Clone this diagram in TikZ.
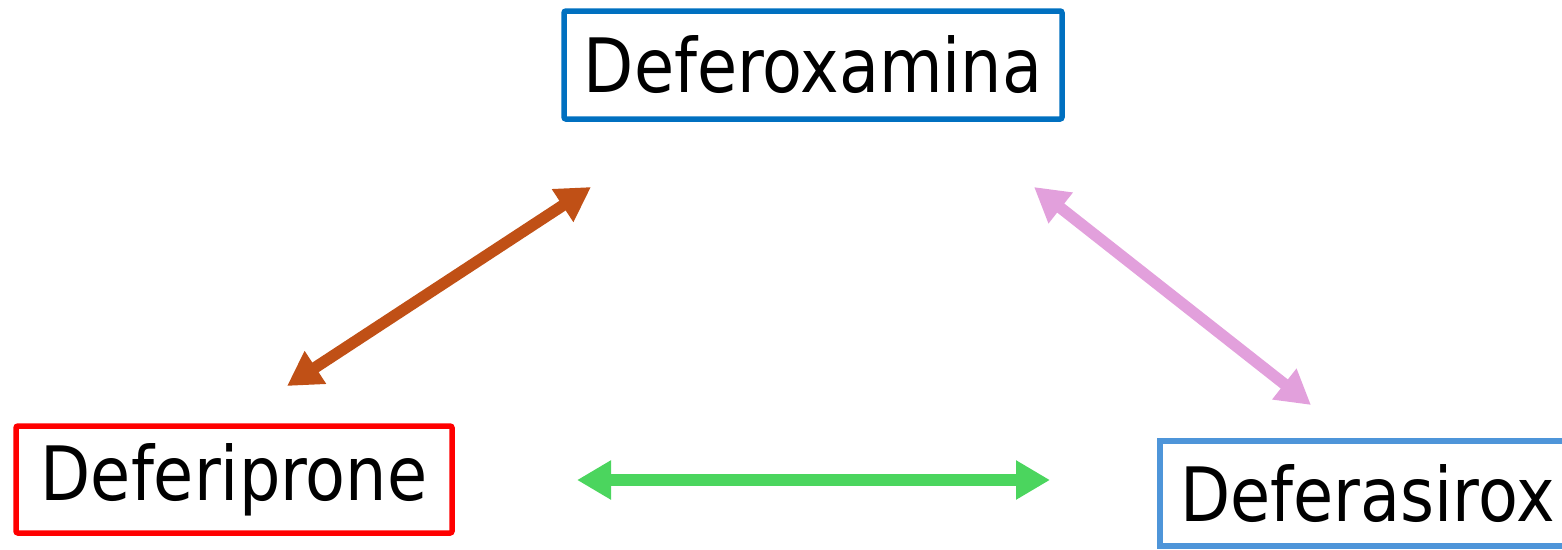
\documentclass[tikz,border=0pt]{standalone}
\usepackage{fontspec}
\newfontfamily\tahfont[FakeStretch=0.87]{DejaVu Sans}
\usetikzlibrary{arrows.meta}
\definecolor{boxA}{HTML}{0070C0}
\definecolor{boxB}{HTML}{FF0000}
\definecolor{boxC}{HTML}{4E95D9}
\definecolor{arrBrown}{HTML}{C05016}
\definecolor{arrPink}{HTML}{E2A0DC}
\definecolor{arrGreen}{HTML}{4BD55E}
\tikzset{
  drug/.style={draw, line width=5.5pt, rounded corners=2pt, inner sep=0pt,
    font=\tahfont\fontsize{75}{80}\selectfont, text=black},
  dbl/.style={line width=11.5pt, {Triangle[length=34pt,width=37pt]}-{Triangle[length=34pt,width=37pt]}},
}
\begin{document}
\begin{tikzpicture}[x=1pt,y=-1pt]
\useasboundingbox (0,0) rectangle (1562,549);
\node[drug, draw=boxA, minimum width=498pt, minimum height=108pt] (fox) at (813,65) {Deferoxamina};
\node[drug, draw=boxB, minimum width=436pt, minimum height=107pt] (fip) at (234,479.5) {Deferiprone};
\node[drug, draw=boxC, minimum width=415pt, minimum height=105pt, rounded corners=0pt] (fas) at (1367.5,493.5) {Deferasirox};
\coordinate (b1) at (287,386);
\coordinate (b2) at (591,187);
\coordinate (p1) at (1034,187);
\coordinate (p2) at (1311,405);
\coordinate (g1) at (577,480);
\coordinate (g2) at (1050,480);
\draw[dbl, arrBrown] (b1) -- (b2);
\draw[dbl, arrPink] (p1) -- (p2);
\draw[dbl, arrGreen] (g1) -- (g2);
\end{tikzpicture}
\end{document}
